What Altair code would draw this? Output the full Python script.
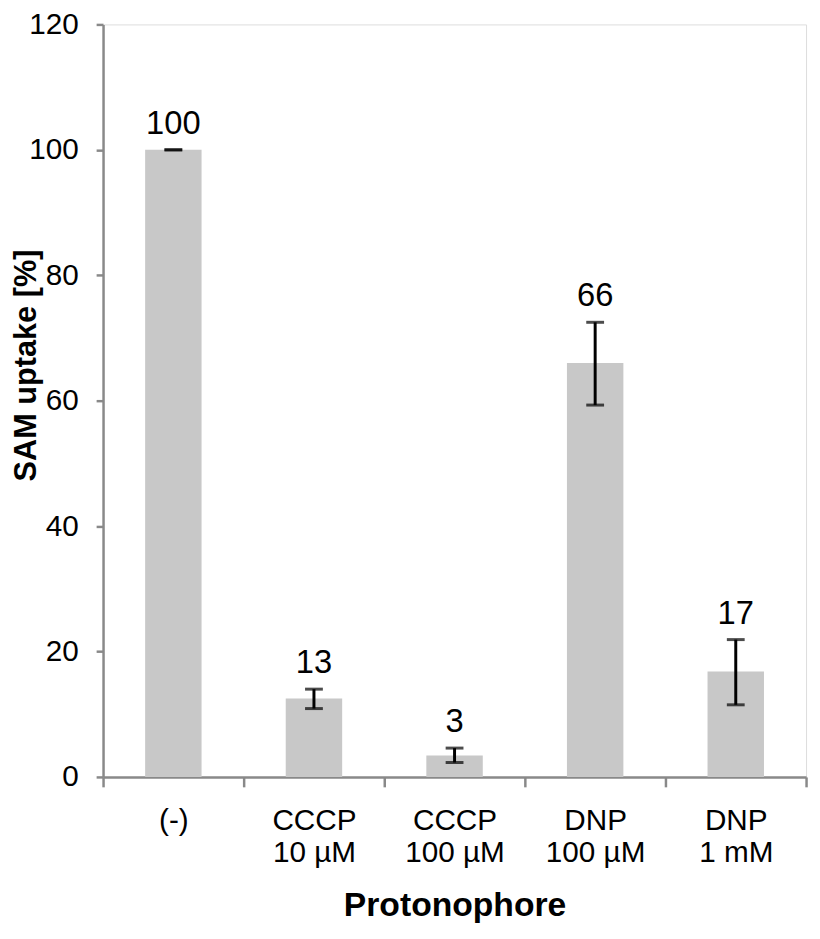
import altair as alt
import pandas as pd

categories = ["(-)", "CCCP|10 µM", "CCCP|100 µM", "DNP|100 µM", "DNP|1 mM"]
uptake = [100, 12.5, 3.4, 66.0, 16.8]
err_low = [100, 10.9, 2.3, 59.3, 11.5]
err_high = [100, 14.0, 4.6, 72.5, 21.9]
value_labels = ["100", "13", "3", "66", "17"]
y_ticks = [0, 20, 40, 60, 80, 100, 120]

df = pd.DataFrame({
    "cat": categories,
    "val": uptake,
    "lo": err_low,
    "hi": err_high,
    "lab": value_labels,
})

FONT = "Liberation Sans"
AX = "#898989"

x_enc = alt.X(
    "cat:N",
    sort=categories,
    scale=alt.Scale(paddingInner=0, paddingOuter=0),
    axis=alt.Axis(
        title="Protonophore",
        titleFont=FONT, titleFontSize=34, titleFontWeight="bold", titleColor="black",
        titleX=355, titleY=140, titleBaseline="alphabetic", titleAlign="center",
        labelExpr="split(datum.label, '|')",
        labelFont=FONT, labelFontSize=30, labelColor="black", labelAngle=0,
        labelBaseline="alphabetic", labelPadding=43, labelLineHeight=32,
        tickBand="extent", tickSize=10, tickColor=AX, tickWidth=2.5,
        domainColor=AX, domainWidth=2.5, grid=False,
    ),
)

y_scale = alt.Scale(domain=[0, 120], nice=False, zero=True)

bars = alt.Chart(df).mark_bar(size=57, color="#c8c8c8").encode(
    x=x_enc,
    y=alt.Y(
        "val:Q",
        scale=y_scale,
        axis=alt.Axis(
            title="SAM uptake [%]",
            titleFont=FONT, titleFontSize=31, titleFontWeight="bold", titleColor="black",
            titleX=-68, titleY=344, titleBaseline="alphabetic", titleAngle=-90,
            titleAlign="center",
            values=y_ticks,
            labelFont=FONT, labelFontSize=30, labelColor="black", labelPadding=18,
            tickSize=7, tickColor=AX, tickWidth=2.5,
            domainColor=AX, domainWidth=2.5, grid=False,
        ),
    ),
)

rules = alt.Chart(df).mark_rule(color="black", strokeWidth=3).encode(
    x=alt.X("cat:N", sort=categories),
    y=alt.Y("lo:Q", scale=y_scale),
    y2="hi:Q",
)

caps_lo = alt.Chart(df).mark_tick(color="black", size=18, thickness=3).encode(
    x=alt.X("cat:N", sort=categories),
    y=alt.Y("lo:Q", scale=y_scale),
)
caps_hi = alt.Chart(df).mark_tick(color="black", size=18, thickness=3).encode(
    x=alt.X("cat:N", sort=categories),
    y=alt.Y("hi:Q", scale=y_scale),
)

texts = alt.Chart(df).mark_text(
    font=FONT, fontSize=33, color="black", baseline="alphabetic", dy=-16
).encode(
    x=alt.X("cat:N", sort=categories),
    y=alt.Y("hi:Q", scale=y_scale),
    text="lab:N",
)

chart = alt.layer(bars, rules, caps_lo, caps_hi, texts).properties(
    width=710,
    height=760,
    autosize=alt.AutoSizeParams(type="none"),
    padding={"left": 96, "top": 12, "right": 6, "bottom": 150},
).configure_view(stroke=None).configure(background="white")

chart.save("out.html", embed_options={"renderer": "svg", "actions": False})
